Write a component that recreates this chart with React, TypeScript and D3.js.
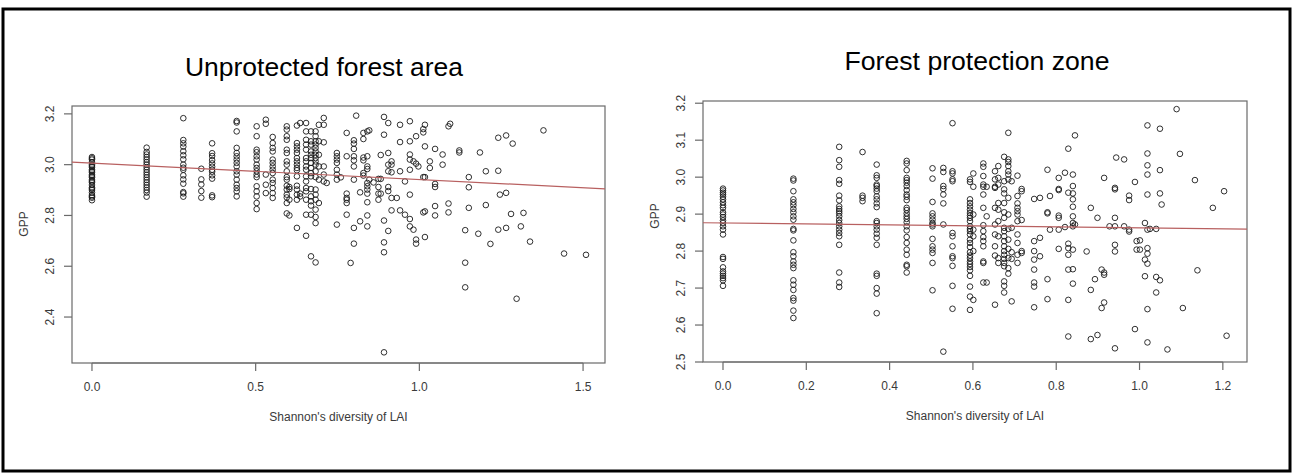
import { scaleLinear } from 'd3';

// Unprotected forest area: x (Shannon's diversity of LAI) columns and the GPP values stacked at each one
const leftX = [
  0, 0.167, 0.279, 0.334, 0.367, 0.442, 0.503, 0.531, 0.552, 0.595, 0.603, 0.626, 0.636, 0.654,
  0.669, 0.683, 0.693, 0.708, 0.717, 0.748, 0.76, 0.778, 0.79, 0.8, 0.807, 0.819, 0.829, 0.841,
  0.847, 0.86, 0.875, 0.882, 0.892, 0.905, 0.915, 0.931, 0.941, 0.956, 0.971, 0.982, 0.99, 0.997,
  1.012, 1.017, 1.032, 1.048, 1.071, 1.089, 1.094, 1.122, 1.14, 1.151, 1.18, 1.185, 1.203, 1.217,
  1.241, 1.246, 1.265, 1.28, 1.285, 1.297, 1.31, 1.318, 1.338, 1.379, 1.442, 1.509,
];
const leftY = [
  [3.03, 3.025, 3.02, 3.01, 3.0, 2.995, 2.99, 2.98, 2.975, 2.97, 2.96, 2.955, 2.95, 2.94, 2.935, 2.93, 2.92, 2.91, 2.905, 2.9, 2.89, 2.88, 2.875, 2.87, 2.86],
  [3.067, 3.05, 3.04, 3.03, 3.02, 3.01, 3.0, 2.99, 2.98, 2.97, 2.96, 2.95, 2.94, 2.93, 2.92, 2.91, 2.9, 2.89, 2.874],
  [3.183, 3.097, 3.084, 3.071, 3.053, 3.037, 3.021, 3.0, 2.988, 2.98, 2.958, 2.942, 2.925, 2.892, 2.887, 2.874],
  [2.984, 2.942, 2.922, 2.896, 2.87],
  [3.084, 3.045, 3.034, 3.018, 3.005, 2.992, 2.98, 2.972, 2.958, 2.945, 2.879, 2.872],
  [3.172, 3.166, 3.131, 3.066, 3.046, 3.033, 3.02, 3.007, 2.993, 2.974, 2.961, 2.941, 2.921, 2.908, 2.895, 2.875],
  [3.151, 3.112, 3.059, 3.049, 3.033, 3.02, 3.0, 2.987, 2.974, 2.961, 2.951, 2.915, 2.895, 2.875, 2.849, 2.825],
  [3.177, 3.161, 2.961, 2.921, 2.888],
  [3.109, 3.085, 3.066, 3.052, 3.02, 3.007, 2.993, 2.98, 2.967, 2.941, 2.928, 2.908, 2.888, 2.869],
  [3.151, 3.138, 3.112, 3.098, 3.059, 3.046, 3.013, 3.0, 2.974, 2.951, 2.941, 2.917, 2.902, 2.882, 2.871, 2.849, 2.808],
  [2.912, 2.904, 2.862, 2.8],
  [3.154, 3.085, 3.072, 3.059, 3.046, 3.026, 3.013, 3.0, 2.987, 2.978, 2.954, 2.917, 2.902, 2.882, 2.862, 2.751],
  [3.164, 2.886, 2.875],
  [3.164, 3.131, 3.098, 3.079, 3.059, 3.026, 3.013, 2.993, 2.98, 2.954, 2.934, 2.908, 2.895, 2.862, 2.803, 2.72],
  [3.131, 3.092, 3.079, 3.052, 3.039, 3.026, 3.007, 2.987, 2.967, 2.954, 2.904, 2.875, 2.856, 2.839, 2.803, 2.639],
  [3.131, 3.112, 3.092, 3.079, 3.066, 3.052, 3.039, 3.026, 3.013, 3.0, 2.974, 2.951, 2.902, 2.882, 2.862, 2.823, 2.794, 2.77, 2.615],
  [3.157, 3.092, 3.039, 2.993, 2.941, 2.849],
  [3.184, 3.157, 3.088, 2.993, 2.961, 2.934],
  [2.928],
  [3.046, 3.033, 3.02, 3.007, 2.98, 2.961, 2.941, 2.764],
  [2.95],
  [3.125, 3.033, 2.886, 2.869, 2.862, 2.849, 2.803],
  [2.613],
  [3.096, 3.083, 3.062, 3.033, 3.017, 2.993, 2.941, 2.751, 2.689],
  [3.193],
  [2.891, 2.777],
  [3.125, 3.101, 3.028, 3.017, 2.967, 2.957],
  [3.131, 3.033, 2.993, 2.983, 2.928, 2.915, 2.902, 2.886, 2.852, 2.8, 2.757],
  [3.135, 2.941],
  [2.93],
  [2.944, 2.912, 2.886, 2.862],
  [3.038, 2.944, 2.886],
  [3.188, 3.118, 2.78, 2.694, 2.655, 2.261],
  [3.164, 3.046, 3.0, 2.974, 2.912, 2.896, 2.739],
  [3.013, 3.0, 2.97, 2.869, 2.82],
  [2.869],
  [3.157, 3.089, 2.974, 2.82],
  [2.934, 2.803],
  [3.171, 3.092, 3.04, 3.02, 2.98, 2.882, 2.786, 2.757],
  [3.013, 2.744],
  [3.112, 3.004, 2.705, 2.689],
  [2.993],
  [3.14, 3.127, 2.951, 2.812],
  [3.157, 3.072, 2.951, 2.816, 2.715],
  [3.013, 2.987],
  [3.062, 2.924, 2.912, 2.837, 2.8],
  [3.04, 3.0],
  [3.151, 2.847, 2.812],
  [3.161],
  [3.056, 3.048],
  [2.742, 2.614, 2.517],
  [2.951, 2.911, 2.83],
  [2.728],
  [3.048],
  [2.974, 2.841],
  [2.688],
  [3.106, 2.976, 2.744],
  [2.882],
  [3.115, 2.889, 2.751],
  [2.806],
  [3.083],
  [2.472],
  [2.757],
  [2.81],
  [2.697],
  [3.135],
  [2.65],
  [2.645],
];

// Forest protection zone
const rightX = [
  0, 0.169, 0.279, 0.335, 0.369, 0.441, 0.503, 0.529, 0.551, 0.593, 0.601, 0.625, 0.633, 0.653,
  0.661, 0.675, 0.685, 0.693, 0.707, 0.717, 0.747, 0.761, 0.779, 0.785, 0.806, 0.821, 0.829, 0.84,
  0.845, 0.873, 0.883, 0.893, 0.899, 0.909, 0.915, 0.928, 0.941, 0.944, 0.963, 0.975, 0.989, 0.993,
  1.001, 1.013, 1.019, 1.025, 1.04, 1.049, 1.053, 1.067, 1.089, 1.097, 1.104, 1.133, 1.139, 1.176,
  1.203, 1.209,
];
const rightY = [
  [2.969, 2.964, 2.958, 2.953, 2.947, 2.94, 2.932, 2.924, 2.917, 2.905, 2.899, 2.892, 2.883, 2.876, 2.867, 2.858, 2.845, 2.784, 2.779, 2.756, 2.745, 2.739, 2.733, 2.727, 2.721, 2.706],
  [2.996, 2.991, 2.962, 2.94, 2.932, 2.924, 2.914, 2.905, 2.894, 2.885, 2.86, 2.856, 2.829, 2.797, 2.786, 2.772, 2.763, 2.754, 2.721, 2.709, 2.695, 2.673, 2.666, 2.639, 2.619],
  [3.082, 3.046, 3.028, 2.992, 2.982, 2.95, 2.937, 2.921, 2.914, 2.908, 2.902, 2.894, 2.884, 2.876, 2.867, 2.858, 2.849, 2.84, 2.817, 2.742, 2.715, 2.703],
  [3.068, 2.95, 2.944, 2.935],
  [3.034, 3.005, 2.998, 2.98, 2.976, 2.969, 2.962, 2.948, 2.94, 2.929, 2.919, 2.881, 2.876, 2.867, 2.858, 2.847, 2.836, 2.817, 2.739, 2.733, 2.7, 2.685, 2.632],
  [3.044, 3.037, 3.019, 2.998, 2.992, 2.985, 2.976, 2.965, 2.953, 2.947, 2.938, 2.917, 2.911, 2.902, 2.894, 2.887, 2.878, 2.867, 2.856, 2.838, 2.822, 2.804, 2.79, 2.763, 2.759, 2.742],
  [3.024, 2.996, 2.933, 2.902, 2.894, 2.885, 2.876, 2.872, 2.867, 2.833, 2.813, 2.804, 2.795, 2.768, 2.694],
  [3.025, 3.014, 2.976, 2.968, 2.953, 2.929, 2.872, 2.528],
  [3.146, 3.016, 3.01, 2.994, 2.989, 2.849, 2.84, 2.813, 2.786, 2.781, 2.76, 2.706, 2.644],
  [2.994, 2.987, 2.94, 2.93, 2.921, 2.912, 2.903, 2.896, 2.89, 2.881, 2.867, 2.86, 2.854, 2.845, 2.831, 2.822, 2.811, 2.797, 2.788, 2.781, 2.772, 2.765, 2.757, 2.748, 2.733, 2.704, 2.677, 2.641],
  [3.01, 2.974, 2.899, 2.858, 2.84, 2.8, 2.668],
  [3.037, 3.028, 3.003, 2.98, 2.974, 2.953, 2.917, 2.87, 2.854, 2.838, 2.827, 2.813, 2.772, 2.768, 2.715],
  [2.974, 2.894, 2.715],
  [3.016, 2.994, 2.974, 2.971, 2.917, 2.872, 2.845, 2.813, 2.788, 2.655],
  [3.03, 2.998, 2.98, 2.93, 2.912, 2.881, 2.84, 2.781, 2.768],
  [3.055, 2.989, 2.967, 2.956, 2.93, 2.905, 2.89, 2.863, 2.854, 2.84, 2.827, 2.813, 2.8, 2.79, 2.779, 2.768, 2.759, 2.718, 2.706, 2.688],
  [3.12, 3.048, 3.041, 3.03, 3.016, 3.007, 2.994, 2.944, 2.899, 2.86, 2.831, 2.806, 2.781, 2.754, 2.739],
  [2.989, 2.863, 2.797, 2.779, 2.664],
  [3.004, 2.949, 2.929, 2.917, 2.908, 2.899, 2.881, 2.845, 2.822, 2.79, 2.768],
  [2.968, 2.962, 2.884, 2.8, 2.795],
  [2.941, 2.827, 2.8, 2.777, 2.75, 2.715, 2.704, 2.648],
  [2.944, 2.836, 2.786],
  [3.02, 2.905, 2.902, 2.724, 2.67],
  [2.949, 2.858],
  [2.998, 2.968, 2.965, 2.896, 2.89, 2.858, 2.806],
  [3.012, 2.865],
  [3.077, 2.958, 2.82, 2.808, 2.79, 2.75, 2.668, 2.569],
  [3.007, 2.976, 2.956, 2.94, 2.92, 2.894, 2.876, 2.867, 2.804, 2.751, 2.712],
  [3.113, 2.872],
  [2.799],
  [2.917, 2.695, 2.562],
  [2.724],
  [2.89, 2.573],
  [2.75, 2.646],
  [2.998, 2.742, 2.736, 2.661],
  [2.867],
  [2.971, 2.967, 2.89, 2.867, 2.817, 2.799, 2.537],
  [3.053],
  [3.048, 2.867],
  [2.95, 2.938, 2.858, 2.853],
  [2.987, 2.589],
  [2.827, 2.804],
  [2.829, 2.804],
  [2.876, 2.777, 2.732],
  [3.14, 3.064, 3.032, 3.007, 2.953, 2.858, 2.808, 2.793, 2.766, 2.643, 2.553],
  [2.86],
  [2.86, 2.73, 2.688],
  [3.131, 3.019, 2.956, 2.721],
  [2.926],
  [2.534],
  [3.184],
  [3.063],
  [2.646],
  [2.992],
  [2.748],
  [2.917],
  [2.962],
  [2.571],
];

// fitted lines (intercept, slope)
const leftFit = [3.006, -0.0645];
const rightFit = [2.876, -0.013];

const leftXTicks = [0, 0.5, 1.0, 1.5];
const leftYTicks = [2.4, 2.6, 2.8, 3.0, 3.2];
const rightXTicks = [0, 0.2, 0.4, 0.6, 0.8, 1.0, 1.2];
const rightYTicks = [2.5, 2.6, 2.7, 2.8, 2.9, 3.0, 3.1, 3.2];

const font = "'Liberation Sans', Arial, sans-serif";

type PanelProps = {
  title: string;
  titleX: number;
  titleY: number;
  titleLen: number;
  box: [number, number, number, number]; // left, top, right, bottom
  xDomain: [number, number];
  yDomain: [number, number];
  xs: number[];
  ys: number[][];
  fit: number[];
  xTicks: number[];
  yTicks: number[];
  gppY: number;
};

function Panel(p: PanelProps) {
  const [l, t, r, b] = p.box;
  const x = scaleLinear().domain(p.xDomain).range([l, r]);
  const y = scaleLinear().domain(p.yDomain).range([b, t]);
  const pts = p.xs.flatMap((xv, i) => p.ys[i].map((yv) => [xv, yv]));
  const [x0, x1] = p.xDomain;
  const axisCol = '#6a6a6a';
  const txtCol = '#3a3a3a';
  return (
    <g>
      <text
        x={p.titleX}
        y={p.titleY}
        textAnchor="middle"
        fontSize={26.5}
        fontFamily={font}
        textLength={p.titleLen}
        lengthAdjust="spacingAndGlyphs"
        fill="#000"
      >
        {p.title}
      </text>
      <rect x={l} y={t} width={r - l} height={b - t} fill="none" stroke={axisCol} strokeWidth={1.2} />
      {/* x axis */}
      <line x1={x(p.xTicks[0])} x2={x(p.xTicks[p.xTicks.length - 1])} y1={b} y2={b} stroke={axisCol} />
      {p.xTicks.map((v) => (
        <g key={'x' + v}>
          <line x1={x(v)} x2={x(v)} y1={b} y2={b + 8} stroke={axisCol} strokeWidth={1.2} />
          <text x={x(v)} y={b + 28} textAnchor="middle" fontSize={12} fontFamily={font} fill={txtCol}>
            {v.toFixed(1)}
          </text>
        </g>
      ))}
      {/* y axis */}
      {p.yTicks.map((v) => (
        <g key={'y' + v}>
          <line x1={l - 8} x2={l} y1={y(v)} y2={y(v)} stroke={axisCol} strokeWidth={1.2} />
          <text
            transform={`translate(${l - 18},${y(v)}) rotate(-90)`}
            textAnchor="middle"
            fontSize={12}
            fontFamily={font}
            fill={txtCol}
          >
            {v.toFixed(1)}
          </text>
        </g>
      ))}
      <text x={(l + r) / 2} y={b + 58} textAnchor="middle" fontSize={12} fontFamily={font} fill={txtCol}>
        Shannon's diversity of LAI
      </text>
      <text
        transform={`translate(${l - 44},${p.gppY}) rotate(-90)`}
        textAnchor="middle"
        fontSize={12}
        fontFamily={font}
        fill={txtCol}
      >
        GPP
      </text>
      {pts.map(([xv, yv], i) => (
        <circle key={i} cx={x(xv)} cy={y(yv)} r={2.8} fill="none" stroke="#1a1a1a" strokeWidth={0.9} />
      ))}
      <line
        x1={x(x0)}
        x2={x(x1)}
        y1={y(p.fit[0] + p.fit[1] * x0)}
        y2={y(p.fit[0] + p.fit[1] * x1)}
        stroke="#b86060"
        strokeWidth={1.2}
      />
    </g>
  );
}

export default function App() {
  return (
    <div style={{ position: 'fixed', left: 0, top: 0 }}>
      <svg width={1293} height={475} style={{ display: 'block', background: '#fff' }}>
        <rect x={3} y={9} width={1287} height={462} fill="none" stroke="#000" strokeWidth={3} />
        <Panel
          title="Unprotected forest area"
          titleX={324}
          titleY={76}
          titleLen={278}
          box={[72, 106, 605, 363]}
          xDomain={[-0.061, 1.567]}
          yDomain={[2.219, 3.231]}
          xs={leftX}
          ys={leftY}
          fit={leftFit}
          xTicks={leftXTicks}
          yTicks={leftYTicks}
          gppY={224}
        />
        <Panel
          title="Forest protection zone"
          titleX={977}
          titleY={70}
          titleLen={265}
          box={[703, 101, 1247, 362]}
          xDomain={[-0.048, 1.258]}
          yDomain={[2.5, 3.206]}
          xs={rightX}
          ys={rightY}
          fit={rightFit}
          xTicks={rightXTicks}
          yTicks={rightYTicks}
          gppY={216}
        />
      </svg>
    </div>
  );
}
